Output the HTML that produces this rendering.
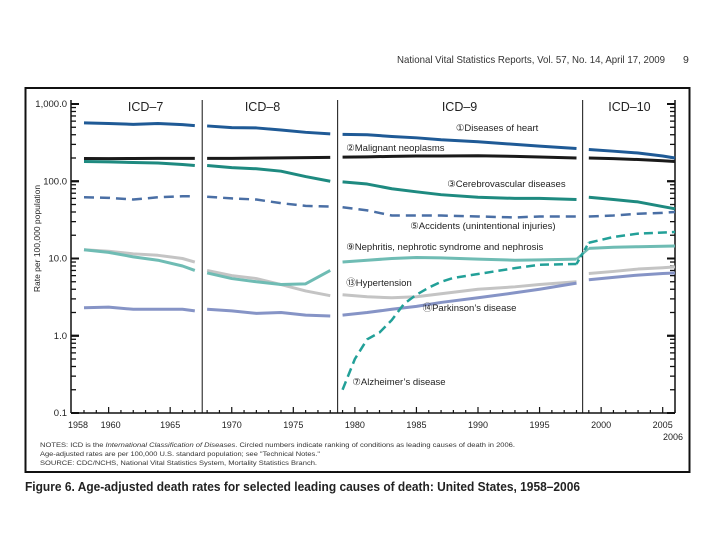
<!DOCTYPE html>
<html><head><meta charset="utf-8"><style>
body{margin:0;background:#fff;width:720px;height:540px;overflow:hidden;font-family:"Liberation Sans",sans-serif}
svg{position:absolute;left:0;top:0}
</style></head><body>
<svg id="c" width="720" height="540">
<text x="397" y="63" font-size="10.5" fill="#333" textLength="268" lengthAdjust="spacingAndGlyphs">National Vital Statistics Reports, Vol. 57, No. 14, April 17, 2009</text>
<text x="683" y="63" font-size="10.5" fill="#333">9</text>
<rect x="25.5" y="88" width="664" height="384" fill="none" stroke="#111" stroke-width="2"/>
<text x="25" y="491" font-size="13" font-weight="bold" fill="#222" textLength="555" lengthAdjust="spacingAndGlyphs">Figure 6. Age-adjusted death rates for selected leading causes of death: United States, 1958–2006</text>
<g font-size="6.2" fill="#333">
<text x="40" y="447" textLength="475" lengthAdjust="spacingAndGlyphs">NOTES: ICD is the <tspan font-style="italic">International Classification of Diseases</tspan>. Circled numbers indicate ranking of conditions as leading causes of death in 2006.</text>
<text x="40" y="456" textLength="280" lengthAdjust="spacingAndGlyphs">Age-adjusted rates are per 100,000 U.S. standard population; see "Technical Notes."</text>
<text x="40" y="465" textLength="277" lengthAdjust="spacingAndGlyphs">SOURCE: CDC/NCHS, National Vital Statistics System, Mortality Statistics Branch.</text>
</g>
</svg>
<script>
const years=[1958,1960,1962,1964,1966,1967,1968,1970,1972,1974,1976,1978,1979,1981,1983,1985,1987,1990,1993,1995,1998,1999,2001,2003,2005,2006];
const heart=[570,560,545,560,540,525,520,495,490,460,430,410,405,400,380,365,345,325,300,285,265,258,245,232,212,200];
const cancer=[197,196,197,198,198,198,198,198,199,201,202,204,205,207,210,212,212,214,210,206,200,200,196,191,184,180];
const stroke=[180,178,175,172,165,160,160,150,145,135,115,100,98,92,80,73,67,62,60,60,58,62,58,54,47,44];
const accidents=[62,61,58,62,64,64,63,60,58,52,48,47,46,42,36,36,36,35,34,35,35,35,36,38,39,40];
const nephritis=[13,12,10.5,9.5,8,7,6.5,5.5,5.0,4.6,4.7,7.0,9,9.5,10,10.3,10.2,9.8,9.5,9.6,9.8,13.5,14,14.2,14.4,14.5];
const hypertension=[13,12.4,11.5,11,10,9,7,6.0,5.5,4.6,3.8,3.3,3.4,3.2,3.1,3.2,3.5,4.0,4.3,4.6,5.0,6.4,6.8,7.3,7.6,7.8];
const parkinson=[2.3,2.35,2.2,2.2,2.2,2.1,2.2,2.1,1.95,2.0,1.85,1.8,1.85,2.0,2.2,2.4,2.7,3.1,3.6,4.0,4.8,5.3,5.7,6.1,6.4,6.5];
const alzYears=[1979,1980,1981,1982,1983,1984,1985,1986,1987,1988,1990,1993,1995,1998,1999,2001,2003,2006];
const alz=[0.2,0.5,0.9,1.1,1.6,2.6,3.4,4.2,5.0,5.6,6.3,7.5,8.3,8.5,16,19,21,22];
const yTicks=[1000,100,10,1,0.1];
const yTickLabels=["1,000.0","100.0","10.0","1.0","0.1"];
const xTicks=[1960,1965,1970,1975,1980,1985,1990,1995,2000,2005];
const breaks=[1967.6,1978.6,1998.5];
const eras=["ICD–7","ICD–8","ICD–9","ICD–10"];
const eraCenters=[1963,1972.5,1988.5,2002.3];

const NS="http://www.w3.org/2000/svg";
const svg=document.getElementById('c');
const L=71,R=675,T=104,B=413;
const X=y=>84+(y-1958)*(R-84)/48;
const Y=v=>T+(3-Math.log10(v))*(B-T)/4;
function el(t,a,p){const e=document.createElementNS(NS,t);for(const k in a)e.setAttribute(k,a[k]);(p||svg).appendChild(e);return e;}
function txt(x,y,s,fs,anchor,p){const e=el('text',{x:x,y:y,'font-size':fs,'text-anchor':anchor||'start',fill:'#222'},p);e.textContent=s;return e;}

const ax=el('g',{});


el('line',{x1:L,y1:T-4,x2:L,y2:B,stroke:'#111','stroke-width':1.5},ax);
el('line',{x1:L,y1:B,x2:R,y2:B,stroke:'#111','stroke-width':1.5},ax);
el('line',{x1:R,y1:T-4,x2:R,y2:B,stroke:'#111','stroke-width':1.5},ax);
for(let d=-1;d<3;d++){for(let m=1;m<=10;m++){const v=m*Math.pow(10,d);const yy=Y(v);const len=(m==1||m==10)?8:5;
el('line',{x1:L,y1:yy,x2:L+len,y2:yy,stroke:'#111','stroke-width':m==10||m==1?2:1.3},ax);
el('line',{x1:R,y1:yy,x2:R-len,y2:yy,stroke:'#111','stroke-width':m==10||m==1?2:1.3},ax);}}
yTicks.forEach((v,i)=>{const t=txt(L-4,Y(v)+3,yTickLabels[i],9.5,'end',ax);});
for(let yr=1958;yr<=2006;yr++){const big=xTicks.includes(yr);el('line',{x1:X(yr),y1:B,x2:X(yr),y2:B-(big?6:3),stroke:'#111','stroke-width':1.2},ax);}
xTicks.forEach(yr=>{const t=txt(X(yr)+(yr==1960?2:0),B+15,String(yr),9,'middle',ax);});
{const t=txt(X(1958)-6,B+15,'1958',9,'middle',ax);}
{const t=txt(X(2006)+8,B+27,'2006',9,'end',ax);}
const yt=el('text',{x:0,y:0,'font-size':8.5,fill:'#222','text-anchor':'middle',transform:`translate(40,${(T+B)/2-20}) rotate(-90)`},ax);
yt.textContent='Rate per 100,000 population';


breaks.forEach(b=>{const l=el('line',{x1:X(b),y1:T-4,x2:X(b),y2:B,stroke:'#111','stroke-width':1},ax);});
eras.forEach((s,i)=>{const t=txt(X(eraCenters[i]),T+7,s,12.5,'middle',ax);});

function series(name,ys,vals,color,w,dash){
  const g=el('g',{});
  
  
  const segs=[[],[],[],[]];
  ys.forEach((yr,i)=>{let s=0;breaks.forEach(b=>{if(yr>b)s++;});segs[s].push([X(yr),Y(vals[i])]);});
  segs.forEach(pts=>{if(pts.length<2)return;
    el('polyline',{points:pts.map(p=>p.join(',')).join(' '),fill:'none',stroke:color,'stroke-width':w,'stroke-dasharray':dash||'none','stroke-linejoin':'round'},g);});
  return g;
}
series('heart-disease-line',years,heart,'#1f5a96',3);
series('cancer-line',years,cancer,'#1a1a1a',3);
series('stroke-line',years,stroke,'#1e8a80',3);
series('accidents-line',years,accidents,'#4a6fa5',2.5,'10,6');
series('hypertension-line',years,hypertension,'#c4c4c4',3);
series('nephritis-line',years,nephritis,'#6fbcb4',3);
series('parkinson-line',years,parkinson,'#8694c6',3);
series('alzheimer-line',alzYears,alz,'#22a098',2.5,'9,5');
[[nephritis,'#6fbcb4',''],[alz,'#22a098','5,3']].forEach(([arr,c,d],k)=>{
  const ys=k==0?years:alzYears;const i=ys.indexOf(1998),j=ys.indexOf(1999);
  const l=el('line',{x1:X(1998),y1:Y(arr[i]),x2:X(1999),y2:Y(arr[j]),stroke:c,'stroke-width':2.5,'stroke-dasharray':d});
  
  
});

const labels=[
 ['①','Diseases of heart',1988.2,131],['②','Malignant neoplasms',1979.3,151],['③','Cerebrovascular diseases',1987.5,187],
 ['⑤','Accidents (unintentional injuries)',1984.5,229],['⑨','Nephritis, nephrotic syndrome and nephrosis',1979.3,250],
 ['⑬','Hypertension',1979.3,286],['⑭','Parkinson\u2019s disease',1985.5,311],['⑦','Alzheimer\u2019s disease',1979.8,385]];
labels.forEach(([n,s,yr,y])=>{const t=txt(X(yr),y,n+s,9.5,'start');});
</script>
</body></html>
